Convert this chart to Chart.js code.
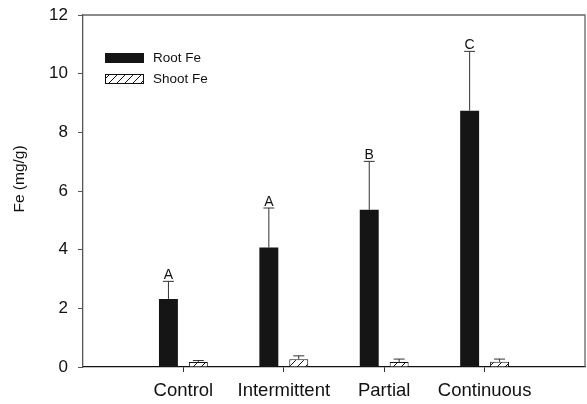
<!DOCTYPE html>
<html>
<head>
<meta charset="utf-8">
<script src="https://cdn.jsdelivr.net/npm/chart.js@4"></script>
<style>
  html, body { margin: 0; padding: 0; background: #fff; }
  #wrap { width: 587px; height: 404px; }
</style>
</head>
<body>
<div id="wrap"><canvas id="c" width="587" height="404"></canvas></div>
<script>
const categories = ['Control', 'Intermittent', 'Partial', 'Continuous'];
const rootFe = [2.32, 4.07, 5.36, 8.74];
const rootErr = [0.60, 1.35, 1.65, 2.02];
const shootFe = [0.17, 0.26, 0.17, 0.18];
const shootErr = [0.05, 0.12, 0.10, 0.09];
const rootLetters = ['A', 'A', 'B', 'C'];
const yTicks = [0, 2, 4, 6, 8, 10, 12];

const FONT = '"Liberation Sans", Arial, sans-serif';

// pad an empty slot on each side of the categories
const labels = [''].concat(categories, ['']);
const pad = arr => [null].concat(arr, [null]);

function hatchPattern() {
  const s = 8;
  const c = document.createElement('canvas');
  c.width = s; c.height = s;
  const g = c.getContext('2d');
  g.fillStyle = '#fff';
  g.fillRect(0, 0, s, s);
  g.strokeStyle = '#111';
  g.lineWidth = 1;
  g.beginPath();
  g.moveTo(-1, s + 1); g.lineTo(s + 1, -1);
  g.moveTo(-1, 1); g.lineTo(1, -1);
  g.moveTo(s - 1, s + 1); g.lineTo(s + 1, s - 1);
  g.stroke();
  return g.createPattern(c, 'repeat');
}
const ctx0 = document.getElementById('c').getContext('2d');
const hatch = hatchPattern();

const errs = [rootErr, shootErr];

const extras = {
  id: 'extras',
  afterDatasetsDraw(chart) {
    const ctx = chart.ctx;
    const ys = chart.scales.y;
    const ca = chart.chartArea;
    ctx.save();
    // error bars
    chart.data.datasets.forEach((ds, di) => {
      const meta = chart.getDatasetMeta(di);
      meta.data.forEach((el, j) => {
        const v = ds.data[j];
        if (v === null || v === undefined) return;
        const e = errs[di][j - 1];
        const yTop = ys.getPixelForValue(v + e);
        ctx.strokeStyle = '#333';
        ctx.lineWidth = 1;
        ctx.beginPath();
        ctx.moveTo(el.x, el.y);
        ctx.lineTo(el.x, yTop);
        ctx.moveTo(el.x - 5.5, yTop);
        ctx.lineTo(el.x + 5.5, yTop);
        ctx.stroke();
        if (di === 0) {
          ctx.fillStyle = '#111';
          ctx.font = '14px ' + FONT;
          ctx.textAlign = 'center';
          ctx.textBaseline = 'alphabetic';
          ctx.fillText(rootLetters[j - 1], el.x, yTop - 2.5);
        }
      });
    });
    // top and right frame
    ctx.strokeStyle = '#666';
    ctx.lineWidth = 1.3;
    ctx.beginPath();
    ctx.moveTo(ca.left, ca.top);
    ctx.lineTo(ca.right, ca.top);
    ctx.lineTo(ca.right, ca.bottom);
    ctx.stroke();
    // legend
    const lx = ca.left + 22, ly = ca.top + 38;
    ctx.fillStyle = chart.data.datasets[0].backgroundColor;
    ctx.fillRect(lx, ly, 39, 10);
    ctx.fillStyle = hatch;
    ctx.fillRect(lx, ly + 21, 39, 10);
    ctx.strokeStyle = '#111';
    ctx.lineWidth = 1;
    ctx.strokeRect(lx + 0.5, ly + 21.5, 38, 9);
    ctx.fillStyle = '#111';
    ctx.font = '13.5px ' + FONT;
    ctx.textAlign = 'left';
    ctx.textBaseline = 'middle';
    ctx.fillText(chart.data.datasets[0].label, lx + 48, ly + 5.5);
    ctx.fillText(chart.data.datasets[1].label, lx + 48, ly + 26.5);
    // y title
    ctx.save();
    ctx.translate(20, 179);
    ctx.rotate(-Math.PI / 2);
    ctx.textAlign = 'center';
    ctx.textBaseline = 'middle';
    ctx.font = '15.5px ' + FONT;
    ctx.fillText('Fe (mg/g)', 0, 0);
    ctx.restore();
    ctx.restore();
  }
};

new Chart(ctx0, {
  type: 'bar',
  data: {
    labels: labels,
    datasets: [
      {
        label: 'Root Fe',
        data: pad(rootFe),
        backgroundColor: '#151515',
        borderWidth: 0,
        categoryPercentage: 0.596,
        barPercentage: 0.633
      },
      {
        label: 'Shoot Fe',
        data: pad(shootFe),
        backgroundColor: hatch,
        borderColor: '#111',
        borderWidth: 1,
        categoryPercentage: 0.596,
        barPercentage: 0.633
      }
    ]
  },
  plugins: [extras],
  options: {
    responsive: false,
    animation: false,
    devicePixelRatio: 1,
    layout: { padding: { top: 15, right: 2, bottom: 0, left: 0 } },
    plugins: {
      legend: { display: false },
      tooltip: { enabled: false },
      title: { display: false }
    },
    scales: {
      x: {
        type: 'category',
        offset: false,
        afterFit: s => {
          s.height = 37;
          s.paddingLeft = 0; s.paddingRight = 0;
          s.paddingTop = 0; s.paddingBottom = 0;
        },
        grid: {
          display: true,
          drawOnChartArea: false,
          drawTicks: true,
          tickLength: 5,
          offset: false,
          color: ctx => (ctx.tick && ctx.tick.label ? '#333' : 'rgba(0,0,0,0)')
        },
        border: { display: true, color: '#111', width: 1.3 },
        ticks: {
          autoSkip: false,
          maxRotation: 0,
          padding: 8,
          color: '#111',
          font: { family: FONT, size: 18.5 }
        }
      },
      y: {
        min: 0,
        max: 12,
        afterFit: s => {
          s.width = 83;
          s.paddingLeft = 0; s.paddingRight = 0;
          s.paddingTop = 0; s.paddingBottom = 0;
        },
        afterBuildTicks: s => { s.ticks = yTicks.map(v => ({ value: v })); },
        grid: {
          display: true,
          drawOnChartArea: false,
          drawTicks: true,
          tickLength: 5,
          color: '#555'
        },
        border: { display: true, color: '#555', width: 1.3 },
        ticks: {
          padding: 10,
          color: '#111',
          font: { family: FONT, size: 17 }
        }
      }
    }
  }
});
</script>
</body>
</html>
